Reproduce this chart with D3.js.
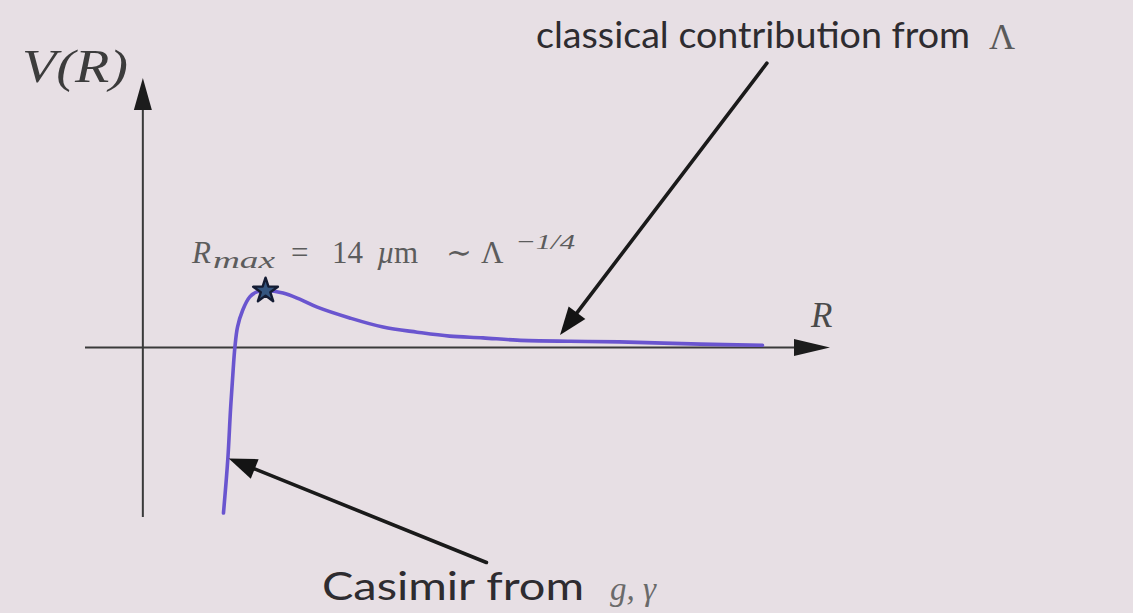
<!DOCTYPE html>
<html>
<head>
<meta charset="utf-8">
<script src="https://cdn.jsdelivr.net/npm/d3@7"></script>
<style>
  html, body { margin: 0; padding: 0; background: #e7dfe4; }
  svg { display: block; }
</style>
</head>
<body>
<svg id="chart" width="1133" height="613"></svg>
<script>
// Potential V(R): separation R (µm) and potential in units of its maximum
const radius = [9.2, 9.7, 10.0, 10.3, 10.5, 10.8, 11.4, 12.2, 13.0, 14.0, 16.0, 17.9, 19.9, 23.6, 27.4, 31.3, 35.0, 38.8, 42.7, 48.7, 54.4, 63.6, 70.7];
const potential = [-2.91, -1.95, -1.10, -0.40, 0.0, 0.36, 0.66, 0.89, 0.98, 1.0, 0.96, 0.85, 0.71, 0.52, 0.36, 0.27, 0.20, 0.17, 0.13, 0.11, 0.10, 0.06, 0.04];

// Location of the maximum
const peakR = 14;
const peakV = 1.0;

// Axis extents
const rDomain = [-6.6, 78.4];
const vDomain = [-2.98, 4.74];

// Annotation arrows: [fromR, fromV, toR, toV]
const arrowLambda = [71.2, 5.0, 47.6, 0.22];
const arrowCasimir = [39.2, -3.78, 9.8, -1.95];

const svg = d3.select("#chart");
const W = 1133, H = 613;

svg.append("rect").attr("width", W).attr("height", H).attr("fill", "#e7dfe4");

const x = d3.scaleLinear().domain(rDomain).range([85, 830]);
const y = d3.scaleLinear().domain(vDomain).range([517, 78]);

const axisColor = "#3a3a3a";

// Filled triangular arrowhead at (tx,ty) pointing away from (fx,fy)
function arrowHead(g, fx, fy, tx, ty, len, wid, color) {
  const a = Math.atan2(ty - fy, tx - fx);
  const bx = tx - len * Math.cos(a), by = ty - len * Math.sin(a);
  const nx = -Math.sin(a) * wid / 2, ny = Math.cos(a) * wid / 2;
  g.append("path")
    .attr("d", `M${tx},${ty}L${bx + nx},${by + ny}L${bx - nx},${by - ny}Z`)
    .attr("fill", color);
}

const axes = svg.append("g");
// horizontal R axis
axes.append("line")
  .attr("x1", x(rDomain[0])).attr("x2", x(rDomain[1]) - 20)
  .attr("y1", y(0)).attr("y2", y(0))
  .attr("stroke", axisColor).attr("stroke-width", 2);
arrowHead(axes, x(rDomain[0]), y(0), x(rDomain[1]), y(0), 36, 17, "#1c1c1c");
// vertical V axis
axes.append("line")
  .attr("x1", x(0)).attr("x2", x(0))
  .attr("y1", y(vDomain[0])).attr("y2", y(vDomain[1]) + 20)
  .attr("stroke", axisColor).attr("stroke-width", 2);
arrowHead(axes, x(0), y(vDomain[0]), x(0), y(vDomain[1]), 32, 18, "#1c1c1c");

// Potential curve
const line = d3.line()
  .x((d, i) => x(radius[i]))
  .y((d, i) => y(potential[i]))
  .curve(d3.curveCatmullRom.alpha(0.5));

svg.append("path")
  .datum(radius)
  .attr("d", line)
  .attr("fill", "none")
  .attr("stroke", "#6a55cf")
  .attr("stroke-width", 3.6)
  .attr("stroke-linecap", "round");

// Star at the maximum
svg.append("path")
  .attr("d", d3.symbol().type(d3.symbolStar).size(190)())
  .attr("transform", `translate(${x(peakR)},${y(peakV)})`)
  .attr("fill", "#34557f")
  .attr("stroke", "#141c33")
  .attr("stroke-width", 2.4)
  .attr("stroke-linejoin", "round");

// Annotation arrows
function annot(a) {
  const g = svg.append("g");
  const fx = x(a[0]), fy = y(a[1]), tx = x(a[2]), ty = y(a[3]);
  const ang = Math.atan2(ty - fy, tx - fx);
  g.append("line")
    .attr("x1", fx).attr("y1", fy)
    .attr("x2", tx - 20 * Math.cos(ang)).attr("y2", ty - 20 * Math.sin(ang))
    .attr("stroke", "#1a1a1a").attr("stroke-width", 3.6)
    .attr("stroke-linecap", "round");
  arrowHead(g, fx, fy, tx, ty, 28, 21, "#141414");
}
annot(arrowLambda);
annot(arrowCasimir);

// Axis labels
const serif = "'Liberation Serif', 'DejaVu Serif', serif";
const sans = "Lato, 'Open Sans', 'Noto Sans', sans-serif";

svg.append("text")
  .attr("x", 22).attr("y", 82)
  .attr("font-family", serif).attr("font-style", "italic")
  .attr("font-size", 46).attr("fill", "#3c3c3c")
  .attr("textLength", 106).attr("lengthAdjust", "spacingAndGlyphs")
  .text("V(R)");

svg.append("text")
  .attr("x", 811).attr("y", 327)
  .attr("font-family", serif).attr("font-style", "italic")
  .attr("font-size", 35).attr("fill", "#4a4a4a")
  .text("R");

// R_max label
const rm = svg.append("g").attr("font-family", serif).attr("fill", "#5c5c5c");
rm.append("text").attr("x", 192).attr("y", 263).attr("font-size", 31).attr("font-style", "italic").text("R");
rm.append("text").attr("x", 213).attr("y", 268).attr("font-size", 23).attr("font-style", "italic")
  .attr("textLength", 62).attr("lengthAdjust", "spacingAndGlyphs").text("max");
rm.append("text").attr("x", 291).attr("y", 263).attr("font-size", 31).text("=");
rm.append("text").attr("x", 332).attr("y", 263).attr("font-size", 31).text("14");
rm.append("text").attr("x", 377).attr("y", 263).attr("font-size", 31).attr("font-style", "italic").text("µ");
rm.append("text").attr("x", 394).attr("y", 263).attr("font-size", 31).text("m");
rm.append("text").attr("x", 446).attr("y", 263).attr("font-size", 31).text("∼");
rm.append("text").attr("x", 481).attr("y", 263).attr("font-size", 31).text("Λ");
rm.append("text").attr("x", 515).attr("y", 249).attr("font-size", 22).attr("font-style", "italic")
  .attr("textLength", 60).attr("lengthAdjust", "spacingAndGlyphs").text("−1/4");

// Annotation captions
svg.append("text")
  .attr("x", 536).attr("y", 48)
  .attr("font-family", sans).attr("font-size", 37).attr("fill", "#2e2c30")
  .attr("textLength", 434).attr("lengthAdjust", "spacingAndGlyphs")
  .text("classical contribution from");
svg.append("text")
  .attr("x", 989).attr("y", 49)
  .attr("font-family", serif).attr("font-size", 36).attr("fill", "#5a5a5a")
  .text("Λ");

svg.append("text")
  .attr("x", 322).attr("y", 600)
  .attr("font-family", sans).attr("font-size", 38).attr("fill", "#2e2c30")
  .attr("textLength", 262).attr("lengthAdjust", "spacingAndGlyphs")
  .text("Casimir from");
svg.append("text")
  .attr("x", 610).attr("y", 600)
  .attr("font-family", serif).attr("font-style", "italic")
  .attr("font-size", 33).attr("fill", "#6a6a6a")
  .text("g, γ");
</script>
</body>
</html>
